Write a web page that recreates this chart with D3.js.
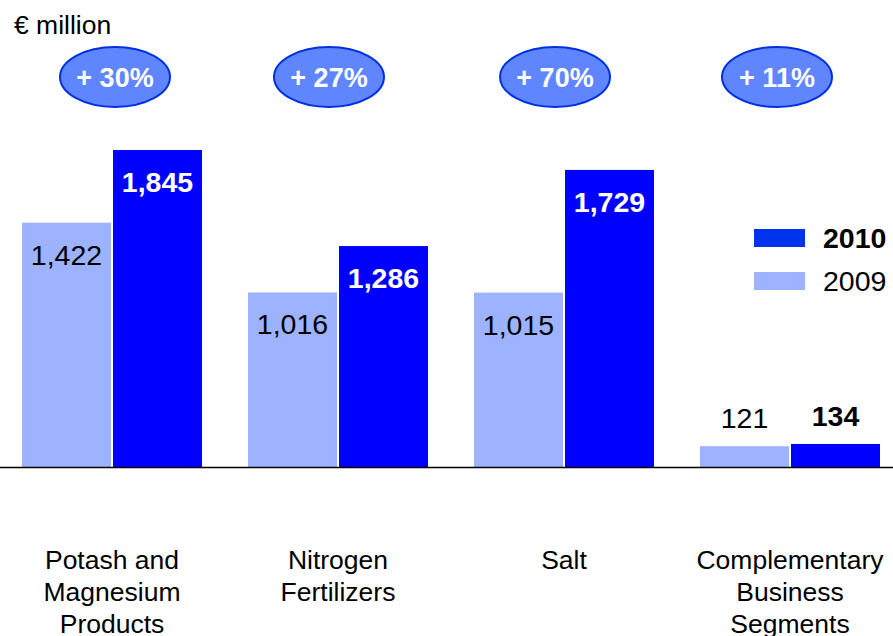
<!DOCTYPE html>
<html>
<head>
<meta charset="utf-8">
<script src="https://cdn.jsdelivr.net/npm/d3@7"></script>
<style>
  body { margin: 0; background: #fff; }
  svg { display: block; font-family: Arial, "Liberation Sans", sans-serif; }
</style>
</head>
<body>
<svg id="chart" width="893" height="636"></svg>
<script>
// Revenue by business segment, € million
const categories = [
  ["Potash and", "Magnesium", "Products"],
  ["Nitrogen", "Fertilizers"],
  ["Salt"],
  ["Complementary", "Business", "Segments"]
];
const years = ["2009", "2010"];
const values2009 = [1422, 1016, 1015, 121];
const values2010 = [1845, 1286, 1729, 134];
const growthLabels = ["+ 30%", "+ 27%", "+ 70%", "+ 11%"];

const colors = { "2009": "#9db3ff", "2010": "#0000ff" };
const legendColors = { "2010": "#0033ee", "2009": "#9db3ff" };

const svg = d3.select("#chart");
const baseY = 467;

const idx = d3.range(categories.length);
const x0 = d3.scaleBand().domain(idx).range([22, 880]).paddingInner(46 / 226).paddingOuter(0);
const x1 = d3.scaleBand().domain(years).range([0, x0.bandwidth()]).paddingInner(0.022);
const y = d3.scaleLinear().domain([0, 1845]).range([baseY, 150]);

const rows = idx.map(i => ({ i, vals: { "2009": values2009[i], "2010": values2010[i] } }));

// unit label
svg.append("text").attr("x", 14).attr("y", 34)
  .attr("font-size", 26.5).attr("fill", "#000").text("€ million");

// bars
const groups = svg.selectAll("g.grp").data(rows).join("g")
  .attr("class", "grp")
  .attr("transform", d => `translate(${x0(d.i)},0)`);

groups.selectAll("rect").data(d => years.map(yr => ({ yr, v: d.vals[yr] }))).join("rect")
  .attr("x", d => x1(d.yr))
  .attr("width", x1.bandwidth())
  .attr("y", d => y(d.v))
  .attr("height", d => baseY - y(d.v))
  .attr("fill", d => colors[d.yr]);

// value labels: inside tall bars, above short ones
groups.selectAll("text.val").data(d => years.map(yr => ({ yr, v: d.vals[yr] }))).join("text")
  .attr("class", "val")
  .attr("x", d => x1(d.yr) + x1.bandwidth() / 2)
  .attr("y", d => (baseY - y(d.v) > 80) ? y(d.v) + 42 : y(d.v) - 18)
  .attr("text-anchor", "middle")
  .attr("font-size", 28.5)
  .attr("font-weight", d => d.yr === "2010" ? "bold" : "normal")
  .attr("fill", d => (d.yr === "2010" && baseY - y(d.v) > 80) ? "#fff" : "#000")
  .text(d => d3.format(",")(d.v));

// baseline
svg.append("line").attr("x1", 0).attr("x2", 893)
  .attr("y1", baseY + 0.5).attr("y2", baseY + 0.5)
  .attr("stroke", "#000").attr("stroke-width", 1.5);

// growth bubbles
const bubbleX = [115, 329, 555, 777];
const bubbles = svg.selectAll("g.bub").data(idx).join("g")
  .attr("class", "bub")
  .attr("transform", i => `translate(${bubbleX[i]},77)`);
bubbles.append("ellipse").attr("rx", 55).attr("ry", 30)
  .attr("fill", "#5f86ff").attr("stroke", "#0030e0").attr("stroke-width", 2);
bubbles.append("text").attr("text-anchor", "middle").attr("y", 10)
  .attr("font-size", 27).attr("font-weight", "bold").attr("fill", "#fff")
  .text(i => growthLabels[i]);

// category labels
const cat = svg.selectAll("text.cat").data(idx).join("text")
  .attr("class", "cat")
  .attr("text-anchor", "middle")
  .attr("font-size", 26.5)
  .attr("fill", "#000")
  .attr("x", i => x0(i) + x0.bandwidth() / 2);
cat.selectAll("tspan").data(i => categories[i].map((t, k) => ({ t, k, i }))).join("tspan")
  .attr("x", d => x0(d.i) + x0.bandwidth() / 2)
  .attr("y", d => 569 + d.k * 32)
  .text(d => d.t);

// legend
const legendItems = ["2010", "2009"];
const lg = svg.selectAll("g.leg").data(legendItems).join("g")
  .attr("class", "leg")
  .attr("transform", (d, k) => `translate(754,${229 + k * 43})`);
lg.append("rect").attr("width", 51).attr("height", 18).attr("fill", d => legendColors[d]);
lg.append("text").attr("x", 69).attr("y", 19)
  .attr("font-size", 28.5)
  .attr("font-weight", d => d === "2010" ? "bold" : "normal")
  .attr("fill", "#000").text(d => d);
</script>
</body>
</html>
